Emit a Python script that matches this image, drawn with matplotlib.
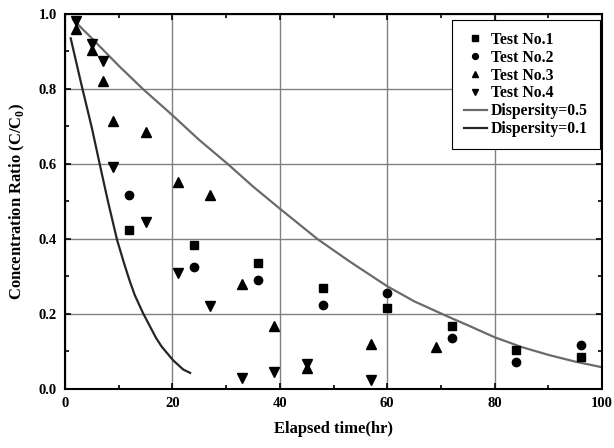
import matplotlib
matplotlib.use("Agg")
import matplotlib.pyplot as plt
from matplotlib.ticker import MultipleLocator

plt.rcParams["font.family"] = ["Liberation Serif", "DejaVu Serif"]
plt.rcParams["font.weight"] = "bold"
plt.rcParams["mathtext.fontset"] = "custom"
plt.rcParams["mathtext.rm"] = "Liberation Serif:bold"
plt.rcParams["mathtext.bf"] = "Liberation Serif:bold"

# measured concentration ratios
t1_hr = [12, 24, 36, 48, 60, 72, 84, 96]
t1_ratio = [0.423, 0.383, 0.337, 0.268, 0.215, 0.168, 0.103, 0.086]

t2_hr = [12, 24, 36, 48, 60, 72, 84, 96]
t2_ratio = [0.516, 0.325, 0.290, 0.223, 0.255, 0.136, 0.071, 0.116]

t3_hr = [2, 5, 7, 9, 15, 21, 27, 33, 39, 45, 57, 69]
t3_ratio = [0.96, 0.905, 0.82, 0.715, 0.686, 0.553, 0.518, 0.28, 0.168, 0.055, 0.12, 0.112]

t4_hr = [2, 5, 7, 9, 15, 21, 27, 33, 39, 45, 57]
t4_ratio = [0.98, 0.92, 0.875, 0.593, 0.444, 0.308, 0.22, 0.03, 0.045, 0.066, 0.024]

# model curves
d05_hr = [1.5, 5, 10, 14.5, 20, 25, 30.3, 35, 40, 47, 53, 60, 65, 71, 75, 80, 85, 90, 95, 100]
d05_ratio = [0.985, 0.935, 0.862, 0.80, 0.73, 0.664, 0.60, 0.54, 0.481, 0.40, 0.34,
             0.274, 0.234, 0.195, 0.17, 0.138, 0.112, 0.091, 0.073, 0.058]

d01_hr = [1.06, 3, 5, 6.5, 8, 9.7, 11, 12, 13, 14.5, 16, 17, 18, 20.1, 22, 23.3]
d01_ratio = [0.935, 0.815, 0.696, 0.597, 0.50, 0.397, 0.335, 0.29, 0.25, 0.203,
             0.162, 0.135, 0.113, 0.077, 0.052, 0.043]

fig = plt.figure(figsize=(6.14, 4.48), dpi=100)
ax = fig.add_axes([0.1059, 0.1317, 0.8746, 0.8371])

ax.grid(True, color="#808080", linewidth=1.0)
ax.set_axisbelow(True)

ax.plot(t1_hr, t1_ratio, "s", color="black", ms=5.5, label="Test No.1", zorder=3)
ax.plot(t2_hr, t2_ratio, "o", color="black", ms=6, label="Test No.2", zorder=3)
ax.plot(t3_hr, t3_ratio, "^", color="black", ms=7, label="Test No.3", zorder=3)
ax.plot(t4_hr, t4_ratio, "v", color="black", ms=7, label="Test No.4", zorder=3)
ax.plot(d05_hr, d05_ratio, "-", color="#6a6a6a", lw=1.6, label="Dispersity=0.5", zorder=2)
ax.plot(d01_hr, d01_ratio, "-", color="#252525", lw=1.6, label="Dispersity=0.1", zorder=2)

ax.set_xlim(0, 100)
ax.set_ylim(0, 1.0)
ax.xaxis.set_major_locator(MultipleLocator(20))
ax.xaxis.set_minor_locator(MultipleLocator(10))
ax.yaxis.set_major_locator(MultipleLocator(0.2))
ax.yaxis.set_minor_locator(MultipleLocator(0.1))
ax.yaxis.set_major_formatter(plt.FormatStrFormatter("%.1f"))

ax.tick_params(which="both", direction="in", top=True, right=True,
               labelsize=10.5, width=1.2)
ax.tick_params(which="major", length=4, pad=6)
ax.tick_params(which="minor", length=3)
for s in ax.spines.values():
    s.set_linewidth(1.5)

ax.set_xlabel("Elapsed time(hr)", fontsize=12, fontweight="bold", labelpad=8)
ax.set_ylabel(r"Concentration Ratio (C/C$_\mathbf{0}$)", fontsize=12,
              fontweight="bold", labelpad=8)

leg = ax.legend(loc="upper right", bbox_to_anchor=(0.996, 0.984),
                borderaxespad=0, fancybox=False, edgecolor="black",
                framealpha=1, fontsize=11.3, markerscale=0.7,
                handlelength=1.5, handletextpad=0.25, labelspacing=0.12,
                borderpad=0.75)
leg.get_frame().set_linewidth(0.8)
for txt in leg.get_texts():
    txt.set_fontweight("bold")

fig.savefig("out.png", dpi=100)
